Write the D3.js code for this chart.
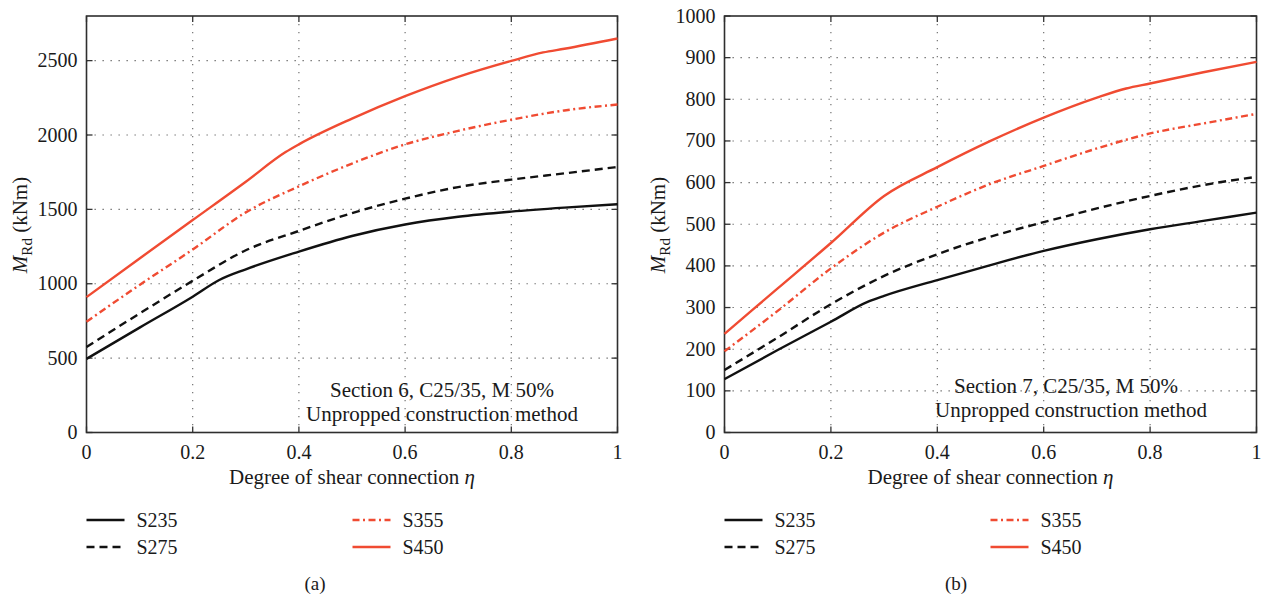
<!DOCTYPE html>
<html>
<head>
<meta charset="utf-8">
<script src="https://d3js.org/d3.v7.min.js"></script>
<style>
  body { margin: 0; background: #fff; }
  text { font-family: "Liberation Serif", "Times New Roman", serif; fill: #1a1a1a; }
</style>
</head>
<body>
<svg id="chart" width="1266" height="597"></svg>
<script>
// degree of shear connection (x values)
var eta = [0, 0.1, 0.2, 0.3, 0.4, 0.5, 0.6, 0.7, 0.8, 0.9, 1];

// panel (a): Section 6, M_Rd in kNm
var etaA235 = [0, 0.1, 0.2, 0.25, 0.3, 0.4, 0.5, 0.6, 0.7, 0.8, 0.9, 1];
var a235 = [495, 705, 913, 1025, 1097, 1216, 1321, 1398, 1450, 1485, 1512, 1535];
var a275 = [575, 800, 1020, 1225, 1355, 1475, 1572, 1650, 1700, 1742, 1785];
var a355 = [745, 992, 1230, 1480, 1655, 1808, 1937, 2028, 2103, 2165, 2205];
var etaA450 = [0, 0.1, 0.2, 0.3, 0.375, 0.4, 0.5, 0.6, 0.7, 0.8, 0.86, 0.9, 1];
var a450 = [910, 1170, 1428, 1686, 1885, 1937, 2110, 2261, 2391, 2498, 2555, 2580, 2649];

// panel (b): Section 7
var etaB235 = [0, 0.1, 0.2, 0.27, 0.3, 0.4, 0.5, 0.6, 0.7, 0.8, 0.9, 1];
var b235 = [128, 198, 266, 314, 328, 366, 402, 436, 464, 488, 508, 528];
var b275 = [150, 228, 308, 376, 428, 470, 505, 538, 568, 594, 614];
var b355 = [195, 292, 394, 480, 542, 597, 640, 682, 718, 742, 765];
var etaB450 = [0, 0.1, 0.2, 0.3, 0.4, 0.5, 0.6, 0.7, 0.755, 0.8, 0.9, 1];
var b450 = [237, 346, 455, 568, 637, 700, 756, 804, 826, 838, 865, 890];

var xTicks = [0, 0.2, 0.4, 0.6, 0.8, 1];
var yTicksA = [0, 500, 1000, 1500, 2000, 2500];
var yTicksB = [0, 100, 200, 300, 400, 500, 600, 700, 800, 900, 1000];
var seriesNames = ["S235", "S275", "S355", "S450"];

var red = "#f04b32", black = "#111";
var styles = {
    S235: {color: black, dash: null},
    S275: {color: black, dash: "8,5"},
    S355: {color: red, dash: "7,3.5,2,3.5"},
    S450: {color: red, dash: null}
};

var svg = d3.select("#chart");

function zip(xs, ys) { return xs.map((x, i) => ({x: x, y: ys[i]})); }

function drawPanel(p) {
    var x = d3.scaleLinear().domain([0, 1]).range([p.left, p.right]);
    var y = d3.scaleLinear().domain([0, p.ymax]).range([p.bottom, p.top]);
    var g = svg.append("g");

    // dotted grid
    g.selectAll(".vg").data(xTicks.slice(1, -1)).enter().append("line")
        .attr("x1", d => x(d)).attr("x2", d => x(d))
        .attr("y1", p.top).attr("y2", p.bottom)
        .attr("stroke", "#666").attr("stroke-width", 1.1)
        .attr("stroke-dasharray", "1.3,6.7");
    g.selectAll(".hg").data(p.yTicks.filter(d => d > 0 && d < p.ymax)).enter().append("line")
        .attr("x1", p.left).attr("x2", p.right)
        .attr("y1", d => y(d)).attr("y2", d => y(d))
        .attr("stroke", "#666").attr("stroke-width", 1.1)
        .attr("stroke-dasharray", "1.3,6.7");

    // inner ticks on all four sides
    var tl = 6;
    xTicks.forEach(function (t) {
        g.append("line").attr("x1", x(t)).attr("x2", x(t)).attr("y1", p.top).attr("y2", p.top + tl)
            .attr("stroke", "#333").attr("stroke-width", 1.3);
        g.append("line").attr("x1", x(t)).attr("x2", x(t)).attr("y1", p.bottom).attr("y2", p.bottom - tl)
            .attr("stroke", "#333").attr("stroke-width", 1.3);
    });
    p.yTicks.forEach(function (t) {
        g.append("line").attr("x1", p.left).attr("x2", p.left + tl).attr("y1", y(t)).attr("y2", y(t))
            .attr("stroke", "#333").attr("stroke-width", 1.3);
        g.append("line").attr("x1", p.right).attr("x2", p.right - tl).attr("y1", y(t)).attr("y2", y(t))
            .attr("stroke", "#333").attr("stroke-width", 1.3);
    });

    // frame
    g.append("rect").attr("x", p.left).attr("y", p.top)
        .attr("width", p.right - p.left).attr("height", p.bottom - p.top)
        .attr("fill", "none").attr("stroke", "#2e2e2e").attr("stroke-width", 1.6);

    // tick labels
    g.selectAll(".xl").data(xTicks).enter().append("text")
        .attr("x", d => x(d)).attr("y", p.bottom + 26)
        .attr("text-anchor", "middle").attr("font-size", 20)
        .text(d => d3.format("~g")(d));
    g.selectAll(".yl").data(p.yTicks).enter().append("text")
        .attr("x", p.left - 9).attr("y", d => y(d) + 6.5)
        .attr("text-anchor", "end").attr("font-size", 20)
        .text(d => d);

    // curves
    var line = d3.line().x(d => x(d.x)).y(d => y(d.y)).curve(d3.curveMonotoneX);
    p.series.forEach(function (s) {
        var st = styles[s.name];
        g.append("path").datum(zip(s.eta, s.values))
            .attr("d", line).attr("fill", "none")
            .attr("stroke", st.color).attr("stroke-width", 2.4)
            .attr("stroke-dasharray", st.dash);
    });

    // note
    g.append("text").attr("x", p.noteX1).attr("y", p.noteY1)
        .attr("text-anchor", "middle").attr("font-size", 21).text(p.note);
    g.append("text").attr("x", p.noteX2).attr("y", p.noteY1 + 24)
        .attr("text-anchor", "middle").attr("font-size", 21).text("Unpropped construction method");

    // axis titles
    var xt = g.append("text").attr("x", (p.left + p.right) / 2).attr("y", p.bottom + 51)
        .attr("text-anchor", "middle").attr("font-size", 21);
    xt.append("tspan").text("Degree of shear connection ");
    xt.append("tspan").attr("font-style", "italic").text("\u03b7");

    var yt = g.append("text")
        .attr("transform", "translate(" + (p.left - 60) + "," + 225 + ") rotate(-90)")
        .attr("text-anchor", "middle").attr("font-size", 21);
    yt.append("tspan").attr("font-style", "italic").text("M");
    yt.append("tspan").attr("font-size", 15).attr("dy", 5).text("Rd");
    yt.append("tspan").attr("dy", -5).text(" (kNm)");

    // legend
    var lg = [
        {name: "S235", col: 0, row: 0}, {name: "S275", col: 0, row: 1},
        {name: "S355", col: 1, row: 0}, {name: "S450", col: 1, row: 1}
    ];
    lg.forEach(function (d) {
        var lx = p.left + d.col * 266, ly = 520 + d.row * 27;
        var st = styles[d.name];
        g.append("line").attr("x1", lx).attr("x2", lx + 38).attr("y1", ly).attr("y2", ly)
            .attr("stroke", st.color).attr("stroke-width", 2.6)
            .attr("stroke-dasharray", st.dash);
        g.append("text").attr("x", lx + 50).attr("y", ly + 7)
            .attr("font-size", 20).text(d.name);
    });

    g.append("text").attr("x", p.capX).attr("y", 590)
        .attr("text-anchor", "middle").attr("font-size", 19).text(p.caption);
}

drawPanel({
    left: 86.5, right: 617.5, top: 16, bottom: 432.5, ymax: 2800, yTicks: yTicksA,
    note: "Section 6, C25/35, M 50%", noteX1: 442, noteX2: 442, noteY1: 397,
    caption: "(a)", capX: 315,
    series: [
        {name: "S235", eta: etaA235, values: a235},
        {name: "S275", eta: eta, values: a275},
        {name: "S355", eta: eta, values: a355},
        {name: "S450", eta: etaA450, values: a450}
    ]
});

drawPanel({
    left: 724.5, right: 1256.5, top: 16, bottom: 432.5, ymax: 1000, yTicks: yTicksB,
    note: "Section 7, C25/35, M 50%", noteX1: 1066, noteX2: 1071, noteY1: 393,
    caption: "(b)", capX: 956,
    series: [
        {name: "S235", eta: etaB235, values: b235},
        {name: "S275", eta: eta, values: b275},
        {name: "S355", eta: eta, values: b355},
        {name: "S450", eta: etaB450, values: b450}
    ]
});
</script>
</body>
</html>
